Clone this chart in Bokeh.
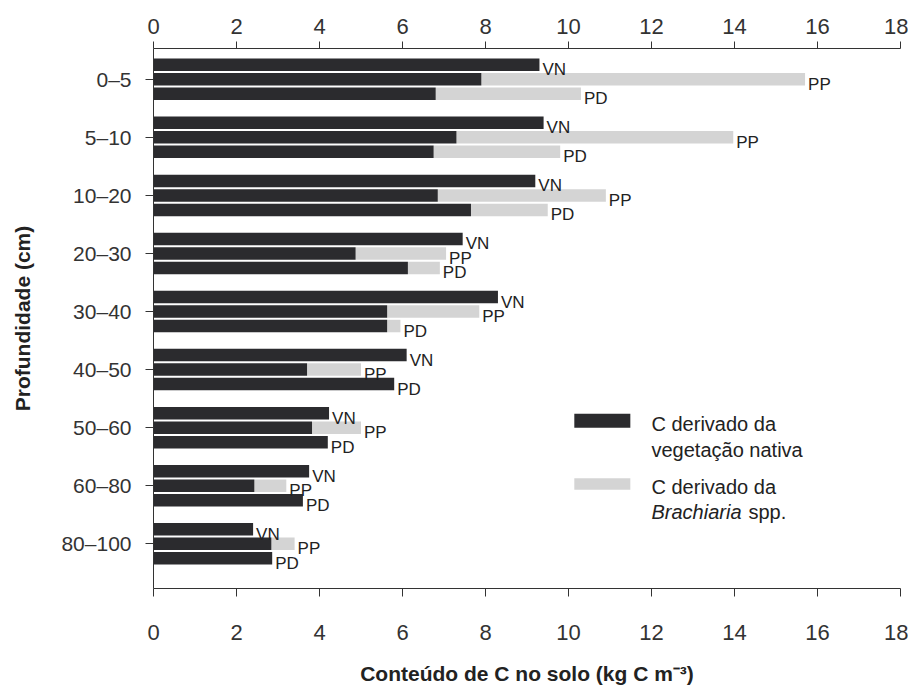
from bokeh.plotting import figure
from bokeh.models import Range1d, LinearAxis, FixedTicker, Label, BoxAnnotation, ColumnDataSource
from bokeh.core.properties import value
from bokeh.embed import file_html
from bokeh.resources import INLINE

depths = ["0–5", "5–10", "10–20", "20–30", "30–40", "40–50", "50–60", "60–80", "80–100"]
treatments = ["VN", "PP", "PD"]

# C derived from native vegetation (kg C m-3)
vn_native = [9.3, 9.4, 9.2, 7.45, 8.3, 6.1, 4.23, 3.75, 2.4]
pp_native = [7.9, 7.3, 6.85, 4.87, 5.63, 3.7, 3.82, 2.43, 2.84]
pd_native = [6.8, 6.75, 7.65, 6.13, 5.63, 5.8, 4.2, 3.6, 2.86]
# C derived from Brachiaria spp. (kg C m-3)
vn_brach = [0, 0, 0, 0, 0, 0, 0, 0, 0]
pp_brach = [7.8, 6.67, 4.05, 2.18, 2.22, 1.3, 1.18, 0.77, 0.56]
pd_brach = [3.5, 3.05, 1.85, 0.77, 0.32, 0.0, 0.0, 0.0, 0.0]

x_ticks = [0, 2, 4, 6, 8, 10, 12, 14, 16, 18]

DARK = "#2b2b2e"
LIGHT = "#d4d4d4"
FONT = "Liberation Sans"

native = {"VN": vn_native, "PP": pp_native, "PD": pd_native}
brach = {"VN": vn_brach, "PP": pp_brach, "PD": pd_brach}
offset = {"VN": -0.25, "PP": 0.0, "PD": 0.25}

ys, nat, tot, lab = [], [], [], []
for i, d in enumerate(depths):
    for t in treatments:
        ys.append(i + offset[t])
        nat.append(native[t][i])
        tot.append(native[t][i] + brach[t][i])
        lab.append(t)
src = ColumnDataSource(dict(y=ys, nat=nat, tot=tot, lab=lab, zero=[0] * len(ys)))

p = figure(width=908, height=692, x_range=Range1d(0, 18), y_range=Range1d(8.77, -0.53),
           output_backend="svg", toolbar_location=None,
           min_border_left=153, min_border_right=8, min_border_top=48, min_border_bottom=104)
p.outline_line_color = None
p.xgrid.visible = False
p.ygrid.visible = False
p.background_fill_color = "white"
p.border_fill_color = "white"

p.hbar(y="y", left="nat", right="tot", height=0.215, fill_color=LIGHT, line_color=None, source=src)
p.hbar(y="y", left="zero", right="nat", height=0.215, fill_color=DARK, line_color=None, source=src)
p.text(x="tot", y="y", text="lab", source=src, x_offset=3, y_offset=5,
       text_font=value(FONT), text_font_size="17px", text_baseline="middle", text_color="#222222")

def style_ticks(ax, out):
    ax.major_tick_out = out
    ax.major_tick_in = 0
    ax.minor_tick_out = 0
    ax.minor_tick_in = 0
    ax.axis_line_color = "#333333"
    ax.major_tick_line_color = "#333333"
    ax.major_label_text_color = "#333333"

# bottom axis
xa = p.xaxis[0]
xa.ticker = FixedTicker(ticks=x_ticks)
xa.axis_label = "Conteúdo de C no solo (kg C m⁻³)"
xa.axis_label_text_font = FONT
xa.axis_label_text_font_style = "bold"
xa.axis_label_text_font_size = "21px"
xa.axis_label_text_color = "#222222"
xa.axis_label_standoff = 19
xa.major_label_text_font = FONT
xa.major_label_text_font_size = "22px"
xa.major_label_standoff = 28
style_ticks(xa, 8)

# top axis
top = LinearAxis(ticker=FixedTicker(ticks=x_ticks))
top.major_label_text_font = FONT
top.major_label_text_font_size = "22px"
top.major_label_standoff = 8
style_ticks(top, 7)
p.add_layout(top, "above")

# left axis
ya = p.yaxis[0]
ya.ticker = FixedTicker(ticks=list(range(len(depths))))
ya.major_label_overrides = {i: d for i, d in enumerate(depths)}
ya.axis_label = "Profundidade (cm)"
ya.axis_label_text_font = FONT
ya.axis_label_text_font_style = "bold"
ya.axis_label_text_font_size = "21px"
ya.axis_label_text_color = "#222222"
ya.axis_label_standoff = 24
ya.major_label_text_font = FONT
ya.major_label_text_font_size = "21px"
ya.major_label_standoff = 14
style_ticks(ya, 8)

# legend
p.add_layout(BoxAnnotation(left=10.14, right=11.49, top=5.76, bottom=6.0,
                           fill_color=DARK, fill_alpha=1, line_color=None))
p.add_layout(BoxAnnotation(left=10.14, right=11.49, top=6.87, bottom=7.07,
                           fill_color=LIGHT, fill_alpha=1, line_color=None))
lab_kw = dict(text_font=FONT, text_font_size="20px", text_baseline="middle", text_color="#222222")
p.add_layout(Label(x=12.0, y=5.94, text="C derivado da", **lab_kw))
p.add_layout(Label(x=12.0, y=6.38, text="vegetação nativa", **lab_kw))
p.add_layout(Label(x=12.0, y=7.02, text="C derivado da", **lab_kw))
p.add_layout(Label(x=12.0, y=7.45, text="Brachiaria", text_font_style="italic", **lab_kw))
p.add_layout(Label(x=12.0, y=7.45, x_offset=97, text="spp.", **lab_kw))

open("out.html", "w").write(file_html(p, INLINE))
